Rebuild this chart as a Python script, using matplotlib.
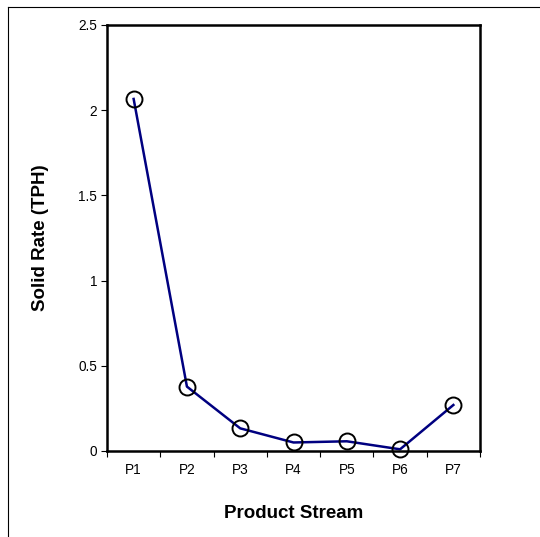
import matplotlib
matplotlib.use("Agg")
import matplotlib.pyplot as plt
from matplotlib.lines import Line2D

streams = ["P1", "P2", "P3", "P4", "P5", "P6", "P7"]
solid_rate = [2.066, 0.378, 0.133, 0.050, 0.057, 0.010, 0.270]
y_ticks = [0, 0.5, 1, 1.5, 2, 2.5]
y_tick_labels = ["0", "0.5", "1", "1.5", "2", "2.5"]

plt.rcParams["font.family"] = ["Liberation Sans", "DejaVu Sans"]

W, H, DPI = 540, 537, 100
fig = plt.figure(figsize=(W / DPI, H / DPI), dpi=DPI)

# axes placement in pixels
left, right, top, bottom = 107, 480, 25, 451
ax = fig.add_axes([left / W, 1 - bottom / H, (right - left) / W, (bottom - top) / H])

x = list(range(len(streams)))
ax.plot(x, solid_rate, color="#000080", lw=1.8, zorder=2)
ax.plot(x, solid_rate, ls="none", marker="o", ms=11.5, mfc="none",
        mec="black", mew=1.4, zorder=3, clip_on=False)

ax.set_xlim(-0.5, len(streams) - 0.5)
ax.set_ylim(0, 2.5)
ax.set_yticks(y_ticks)
ax.set_yticklabels(y_tick_labels)

# category labels centred, tick marks on category boundaries
ax.set_xticks(x)
ax.set_xticklabels(streams)
ax.tick_params(axis="x", which="major", length=0, pad=9)
ax.set_xticks([i - 0.5 for i in range(len(streams) + 1)], minor=True)
ax.tick_params(axis="x", which="minor", direction="out", length=4, width=0.8)
ax.tick_params(axis="y", direction="out", length=4, width=0.8, pad=3)
ax.tick_params(labelsize=9.8)

for s in ax.spines.values():
    s.set_linewidth(1.8)
    s.set_color("black")

ax.set_xlabel("Product Stream", fontsize=13.5, fontweight="bold", labelpad=20)
ax.set_ylabel("Solid Rate (TPH)", fontsize=13.5, fontweight="bold", labelpad=21)

# outer chart frame (top and left edges)
fig.add_artist(Line2D([8 / W, 1.0], [1 - 7 / H, 1 - 7 / H], transform=fig.transFigure,
                      color="black", lw=0.8))
fig.add_artist(Line2D([8 / W, 8 / W], [0.0, 1 - 7 / H], transform=fig.transFigure,
                      color="black", lw=0.8))

fig.savefig("out.png", dpi=DPI)
